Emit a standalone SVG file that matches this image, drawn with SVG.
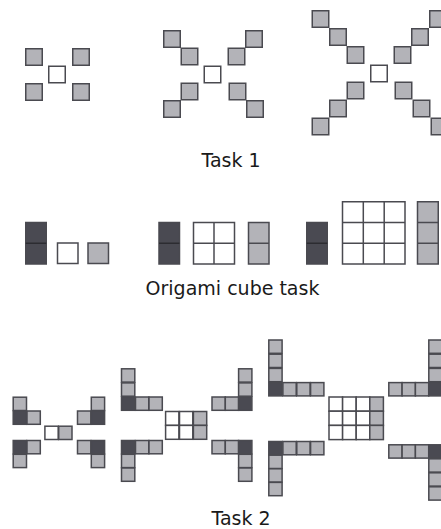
<svg xmlns="http://www.w3.org/2000/svg" width="441" height="529" viewBox="0 0 441 529">
<style>
rect{stroke:#4a4a50;stroke-width:1.5}
.g{fill:#b3b3b8}
.d{fill:#4a4a52}
.w{fill:#ffffff}
.bg{fill:#ffffff;stroke:none}
line{stroke:#4a4a50;stroke-width:1.5}
line.dd{stroke:#2c2c31}
text{font-family:"DejaVu Sans","Noto Sans",sans-serif;font-size:19px;fill:#1a1a1a;text-anchor:middle}
</style>
<rect class="bg" width="441" height="529"/>
<g id="connectors"></g>

<!-- Task 1 -->
<g id="task1-fig1">
<rect class="g" x="25.75" y="48.75" width="16.5" height="16.5"/>
<rect class="g" x="72.75" y="48.75" width="16.5" height="16.5"/>
<rect class="w" x="48.75" y="66.25" width="16.5" height="16.5"/>
<rect class="g" x="25.75" y="83.75" width="16.5" height="16.5"/>
<rect class="g" x="72.75" y="83.75" width="16.5" height="16.5"/>
</g>
<g id="task1-fig2">
<rect class="g" x="163.75" y="30.75" width="16.5" height="16.5"/>
<rect class="g" x="181.25" y="48.25" width="16.5" height="16.5"/>
<rect class="w" x="204.25" y="66.25" width="16.5" height="16.5"/>
<rect class="g" x="228.25" y="48.25" width="16.5" height="16.5"/>
<rect class="g" x="245.75" y="30.75" width="16.5" height="16.5"/>
<rect class="g" x="181.25" y="83.25" width="16.5" height="16.5"/>
<rect class="g" x="163.75" y="100.75" width="16.5" height="16.5"/>
<rect class="g" x="229.25" y="83.25" width="16.5" height="16.5"/>
<rect class="g" x="246.75" y="100.75" width="16.5" height="16.5"/>
</g>
<g id="task1-fig3">
<rect class="g" x="312.25" y="10.75" width="16.5" height="16.5"/>
<rect class="g" x="329.75" y="28.75" width="16.5" height="16.5"/>
<rect class="g" x="347.25" y="46.75" width="16.5" height="16.5"/>
<rect class="w" x="370.75" y="65.25" width="16.5" height="16.5"/>
<rect class="g" x="394.25" y="46.75" width="16.5" height="16.5"/>
<rect class="g" x="411.75" y="28.75" width="16.5" height="16.5"/>
<rect class="g" x="429.75" y="10.75" width="16.5" height="16.5"/>
<rect class="g" x="347.25" y="82.25" width="16.5" height="16.5"/>
<rect class="g" x="329.75" y="100.25" width="16.5" height="16.5"/>
<rect class="g" x="312.25" y="118.25" width="16.5" height="16.5"/>
<rect class="g" x="395.25" y="82.25" width="16.5" height="16.5"/>
<rect class="g" x="413.25" y="100.25" width="16.5" height="16.5"/>
<rect class="g" x="431.25" y="118.25" width="16.5" height="16.5"/>
</g>
<text id="label-task1" x="231" y="166.5">Task 1</text>

<!-- Origami cube task -->
<g id="origami-fig1">
<rect class="d" x="25.75" y="222.5" width="20.5" height="41.5"/>
<line class="dd" x1="25.75" y1="243.25" x2="46.25" y2="243.25"/>
<rect class="w" x="57.5" y="243" width="20.5" height="20.5"/>
<rect class="g" x="88" y="243" width="20.5" height="20.5"/>
</g>
<g id="origami-fig2">
<rect class="d" x="159" y="222.5" width="20.5" height="41.5"/>
<line class="dd" x1="159" y1="243.25" x2="179.5" y2="243.25"/>
<rect class="w" x="193.5" y="222.5" width="41" height="41.5"/>
<line x1="193.5" y1="243.25" x2="234.5" y2="243.25"/>
<line x1="214" y1="222.5" x2="214" y2="264"/>
<rect class="g" x="248.5" y="222.5" width="20.5" height="41.5"/>
<line x1="248.5" y1="243.25" x2="269" y2="243.25"/>
</g>
<g id="origami-fig3">
<rect class="d" x="306.75" y="222.5" width="20.5" height="41.5"/>
<line class="dd" x1="306.75" y1="243.25" x2="327.25" y2="243.25"/>
<rect class="w" x="342.5" y="201.75" width="62.5" height="62.25"/>
<line x1="342.5" y1="222.5" x2="405" y2="222.5"/>
<line x1="342.5" y1="243.25" x2="405" y2="243.25"/>
<line x1="363.3" y1="201.75" x2="363.3" y2="264"/>
<line x1="384.2" y1="201.75" x2="384.2" y2="264"/>
<rect class="g" x="417.5" y="201.75" width="20.75" height="62.25"/>
<line x1="417.5" y1="222.5" x2="438.25" y2="222.5"/>
<line x1="417.5" y1="243.25" x2="438.25" y2="243.25"/>
</g>
<text id="label-origami" x="232.5" y="295">Origami cube task</text>

<!-- Task 2 -->
<g id="task2-fig1">
<rect class="g" x="13.2" y="397.2" width="13.3" height="13.3"/>
<rect class="d" x="13.2" y="411" width="13.3" height="13.3"/>
<rect class="g" x="27" y="411" width="13.3" height="13.3"/>
<rect class="w" x="44.9" y="426.2" width="13.3" height="13.3"/>
<rect class="g" x="58.7" y="426.2" width="13.3" height="13.3"/>
<rect class="g" x="91.3" y="397.2" width="13.3" height="13.3"/>
<rect class="d" x="91.3" y="411" width="13.3" height="13.3"/>
<rect class="g" x="77.5" y="411" width="13.3" height="13.3"/>
<rect class="d" x="13.2" y="440.5" width="13.3" height="13.3"/>
<rect class="g" x="27" y="440.5" width="13.3" height="13.3"/>
<rect class="g" x="13.2" y="454.3" width="13.3" height="13.3"/>
<rect class="d" x="91.3" y="440.5" width="13.3" height="13.3"/>
<rect class="g" x="77.5" y="440.5" width="13.3" height="13.3"/>
<rect class="g" x="91.3" y="454.3" width="13.3" height="13.3"/>
</g>
<g id="task2-fig2">
<rect class="g" x="121.5" y="368.8" width="13.3" height="13.3"/>
<rect class="g" x="121.5" y="382.9" width="13.3" height="13.3"/>
<rect class="d" x="121.5" y="397" width="13.3" height="13.3"/>
<rect class="g" x="135.5" y="397" width="13.3" height="13.3"/>
<rect class="g" x="149" y="397" width="13.3" height="13.3"/>
<rect class="w" x="165.6" y="411.5" width="13.3" height="13.9"/>
<rect class="w" x="179.5" y="411.5" width="13.3" height="13.9"/>
<rect class="g" x="193.4" y="411.5" width="13.3" height="13.9"/>
<rect class="w" x="165.6" y="425.4" width="13.3" height="13.9"/>
<rect class="w" x="179.5" y="425.4" width="13.3" height="13.9"/>
<rect class="g" x="193.4" y="425.4" width="13.3" height="13.9"/>
<rect class="g" x="212" y="397" width="13.3" height="13.3"/>
<rect class="g" x="225.3" y="397" width="13.3" height="13.3"/>
<rect class="d" x="238.6" y="397" width="13.3" height="13.3"/>
<rect class="g" x="238.6" y="368.8" width="13.3" height="13.3"/>
<rect class="g" x="238.6" y="382.9" width="13.3" height="13.3"/>
<rect class="d" x="121.5" y="440.5" width="13.3" height="13.3"/>
<rect class="g" x="135.5" y="440.5" width="13.3" height="13.3"/>
<rect class="g" x="149" y="440.5" width="13.3" height="13.3"/>
<rect class="g" x="121.5" y="454.3" width="13.3" height="13.3"/>
<rect class="g" x="121.5" y="468" width="13.3" height="13.3"/>
<rect class="g" x="212" y="440.5" width="13.3" height="13.3"/>
<rect class="g" x="225.3" y="440.5" width="13.3" height="13.3"/>
<rect class="d" x="238.6" y="440.5" width="13.3" height="13.3"/>
<rect class="g" x="238.6" y="454.3" width="13.3" height="13.3"/>
<rect class="g" x="238.6" y="468" width="13.3" height="13.3"/>
</g>
<g id="task2-fig3">
<rect class="g" x="268.8" y="340" width="13.3" height="13.3"/>
<rect class="g" x="268.8" y="354.2" width="13.3" height="13.3"/>
<rect class="g" x="268.8" y="368.4" width="13.3" height="13.3"/>
<rect class="d" x="268.8" y="382.6" width="13.3" height="13.3"/>
<rect class="g" x="282.9" y="382.6" width="13.3" height="13.3"/>
<rect class="g" x="296.8" y="382.6" width="13.3" height="13.3"/>
<rect class="g" x="310.6" y="382.6" width="13.3" height="13.3"/>
<rect class="w" x="329" y="397" width="13.6" height="14.2"/>
<rect class="w" x="342.6" y="397" width="13.6" height="14.2"/>
<rect class="w" x="356.2" y="397" width="13.6" height="14.2"/>
<rect class="g" x="369.8" y="397" width="13.6" height="14.2"/>
<rect class="w" x="329" y="411.2" width="13.6" height="14.2"/>
<rect class="w" x="342.6" y="411.2" width="13.6" height="14.2"/>
<rect class="w" x="356.2" y="411.2" width="13.6" height="14.2"/>
<rect class="g" x="369.8" y="411.2" width="13.6" height="14.2"/>
<rect class="w" x="329" y="425.4" width="13.6" height="14.2"/>
<rect class="w" x="342.6" y="425.4" width="13.6" height="14.2"/>
<rect class="w" x="356.2" y="425.4" width="13.6" height="14.2"/>
<rect class="g" x="369.8" y="425.4" width="13.6" height="14.2"/>
<rect class="g" x="388.8" y="382.6" width="13.3" height="13.3"/>
<rect class="g" x="402.1" y="382.6" width="13.3" height="13.3"/>
<rect class="g" x="415.4" y="382.6" width="13.3" height="13.3"/>
<rect class="d" x="428.8" y="382.6" width="13.3" height="13.3"/>
<rect class="g" x="428.8" y="340" width="13.3" height="13.3"/>
<rect class="g" x="428.8" y="354.2" width="13.3" height="13.3"/>
<rect class="g" x="428.8" y="368.4" width="13.3" height="13.3"/>
<rect class="d" x="268.8" y="441.5" width="13.3" height="13.3"/>
<rect class="g" x="282.9" y="441.5" width="13.3" height="13.3"/>
<rect class="g" x="296.8" y="441.5" width="13.3" height="13.3"/>
<rect class="g" x="310.6" y="441.5" width="13.3" height="13.3"/>
<rect class="g" x="268.8" y="455.2" width="13.3" height="13.3"/>
<rect class="g" x="268.8" y="468.8" width="13.3" height="13.3"/>
<rect class="g" x="268.8" y="482.4" width="13.3" height="13.3"/>
<rect class="g" x="388.8" y="444.8" width="13.3" height="13.3"/>
<rect class="g" x="402.1" y="444.8" width="13.3" height="13.3"/>
<rect class="g" x="415.4" y="444.8" width="13.3" height="13.3"/>
<rect class="d" x="428.8" y="444.8" width="13.3" height="13.3"/>
<rect class="g" x="428.8" y="458.8" width="13.3" height="13.3"/>
<rect class="g" x="428.8" y="472.8" width="13.3" height="13.3"/>
<rect class="g" x="428.8" y="486.8" width="13.3" height="13.3"/>
</g>
<text id="label-task2" x="241" y="524.5">Task 2</text>
</svg>
